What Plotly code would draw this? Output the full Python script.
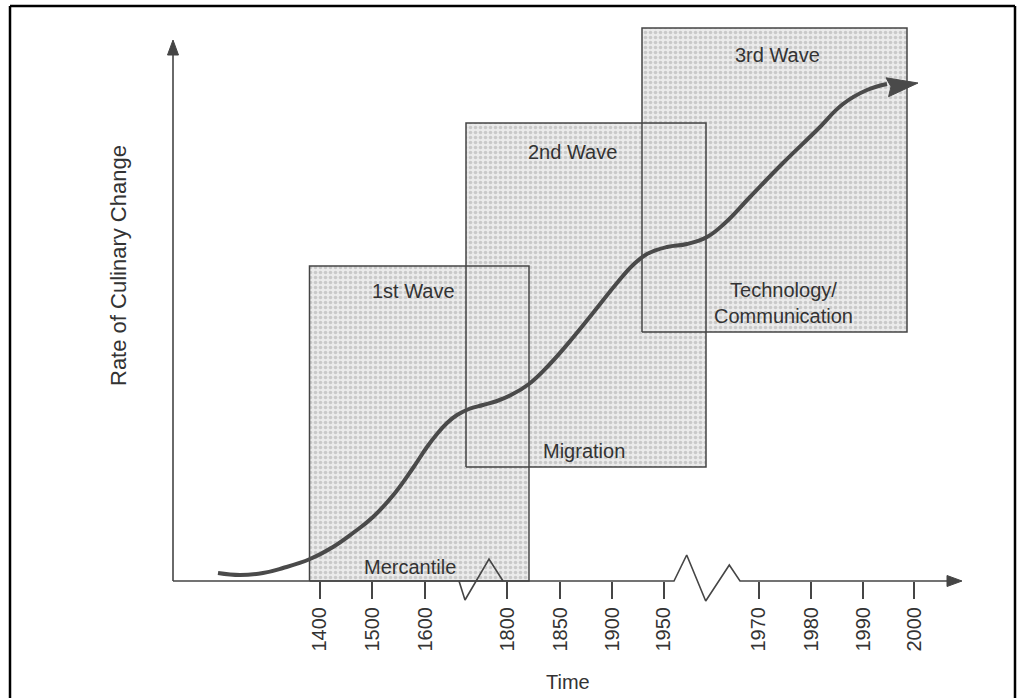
import plotly.graph_objects as go

# ---------------- data ----------------
# x: position along the (broken) time axis, y: rate of culinary change
TICK_POS = [146.5, 199, 252, 334, 387, 439, 490.5, 585.5, 638, 690, 741]
TICK_LABELS = ["1400", "1500", "1600", "1800", "1850", "1900", "1950",
               "1970", "1980", "1990", "2000"]

CURVE_X = [45, 67, 90, 110, 137, 160, 180, 200, 222, 240, 254, 264, 274,
           284, 296, 310, 324, 338, 356, 376, 398, 420, 444, 460, 474, 494,
           514, 534, 552, 577, 610, 644, 670, 694, 714]
CURVE_Y = [8, 6, 8, 13, 22, 34, 48, 64, 88, 113, 134, 147, 158,
           166, 172, 176, 180, 186, 197, 216, 241, 268, 298, 316, 327, 334,
           337, 344, 358, 384, 418, 451, 477, 491, 497]
CURVE_TIP_X = 745
CURVE_TIP_Y = 498

WAVE_NAMES = ["1st Wave", "2nd Wave", "3rd Wave"]
WAVE_DRIVERS = ["Mercantile", "Migration", "Technology/<br>Communication"]
WAVE_X0 = [136.5, 293, 469]
WAVE_X1 = [356, 533, 734]
WAVE_Y0 = [0, 114, 249]
WAVE_Y1 = [315, 458, 553]

# axis geometry (time axis with two breaks)
AXIS_X = [0, 501, 513.7, 532.7, 556.3, 567, 774]
AXIS_Y = [0, 0, 26, -20, 16, 0, 0]
AXIS_TIP_X = 789
BREAK_X = [286, 292, 316, 330]
BREAK_Y = [0, -19, 22, 0]
YAXIS_TOP = 541

# ---------------- layout constants ----------------
W, H = 1019, 698
ML, MR, MT, MB = 163, 49, 20, 87
X_RANGE = [-10, 797]
Y_RANGE = [-30, 561]
FONT = "Liberation Sans, Arial, Helvetica, sans-serif"
INK = "#454545"
TXT = "#333333"


def arrow_poly(tip, back, length, width, notch=0.12):
    dx, dy = tip[0] - back[0], tip[1] - back[1]
    n = (dx * dx + dy * dy) ** 0.5
    dx, dy = dx / n, dy / n
    bx, by = tip[0] - dx * length, tip[1] - dy * length
    px, py = -dy, dx
    xs = [tip[0], bx + px * width / 2, bx + dx * length * notch,
          bx - px * width / 2, tip[0]]
    ys = [tip[1], by + py * width / 2, by + dy * length * notch,
          by - py * width / 2, tip[1]]
    return xs, ys


def px_to_paper(px, py):
    return (px - ML) / (W - ML - MR), (H - MB - py) / (H - MT - MB)


fig = go.Figure()

# wave boxes: fills first, then outlines
for i in range(len(WAVE_NAMES)):
    x0, x1, y0, y1 = WAVE_X0[i], WAVE_X1[i], WAVE_Y0[i], WAVE_Y1[i]
    fig.add_trace(go.Scatter(
        x=[x0, x1, x1, x0, x0], y=[y0, y0, y1, y1, y0],
        mode="lines", fill="toself", line=dict(width=0),
        fillcolor="#e8e8e8",
        fillpattern=dict(shape=".", size=5, solidity=0.42,
                         fgcolor="#a8a8a8", bgcolor="#ebebeb"),
        hoverinfo="skip", showlegend=False))
for i in range(len(WAVE_NAMES)):
    x0, x1, y0, y1 = WAVE_X0[i], WAVE_X1[i], WAVE_Y0[i], WAVE_Y1[i]
    fig.add_trace(go.Scatter(
        x=[x0, x1, x1, x0, x0], y=[y0, y0, y1, y1, y0],
        mode="lines", line=dict(color=INK, width=1.5),
        hoverinfo="skip", showlegend=False))

# axes lines
fig.add_trace(go.Scatter(x=AXIS_X, y=AXIS_Y, mode="lines",
                         line=dict(color=INK, width=1.6),
                         hoverinfo="skip", showlegend=False))
fig.add_trace(go.Scatter(x=BREAK_X, y=BREAK_Y, mode="lines",
                         line=dict(color=INK, width=1.6),
                         hoverinfo="skip", showlegend=False))
fig.add_trace(go.Scatter(x=[0, 0], y=[0, YAXIS_TOP - 14], mode="lines",
                         line=dict(color=INK, width=1.6),
                         hoverinfo="skip", showlegend=False))
for tip, back in [((AXIS_TIP_X, 0), (0, 0)), ((0, YAXIS_TOP), (0, 0))]:
    ax_, ay_ = arrow_poly(tip, back, 15, 11, notch=0.0)
    fig.add_trace(go.Scatter(x=ax_, y=ay_, mode="lines", fill="toself",
                             fillcolor=INK, line=dict(color=INK, width=1),
                             hoverinfo="skip", showlegend=False))

# curve
fig.add_trace(go.Scatter(x=CURVE_X, y=CURVE_Y, mode="lines",
                         line=dict(color="#4a4a4a", width=4, shape="spline",
                                   smoothing=1.2),
                         hoverinfo="skip", showlegend=False))
hx, hy = arrow_poly((CURVE_TIP_X, CURVE_TIP_Y), (CURVE_X[-2], CURVE_Y[-2]), 31, 19)
fig.add_trace(go.Scatter(x=hx, y=hy, mode="lines", fill="toself",
                         fillcolor="#4a4a4a", line=dict(color="#4a4a4a", width=1),
                         hoverinfo="skip", showlegend=False))

# text labels
LABELS = [
    ("1st Wave", 240, 290), ("2nd Wave", 399, 429), ("3rd Wave", 604, 526),
    ("Mercantile", 237, 14), ("Migration", 411, 130),
    ("Technology/<br>Communication", 610, 278),
]
ann = []
for t, x, y in LABELS:
    ann.append(dict(text=t, x=x, y=y, xref="x", yref="y", showarrow=False,
                    font=dict(family=FONT, size=20, color=TXT),
                    xanchor="center", yanchor="middle", align="center"))
tx, ty = px_to_paper(568, 682)
ann.append(dict(text="Time", x=tx, y=ty, xref="paper", yref="paper", showarrow=False,
                font=dict(family=FONT, size=20, color=TXT),
                xanchor="center", yanchor="middle"))
yx, yy = px_to_paper(118, 266)
ann.append(dict(text="Rate of Culinary Change", x=yx, y=yy, xref="paper", yref="paper",
                showarrow=False, textangle=-90,
                font=dict(family=FONT, size=22, color=TXT),
                xanchor="center", yanchor="middle"))

x_l, y_t = px_to_paper(10, 6)
x_r, y_b = px_to_paper(1015, 698)
shapes = [
    dict(type="line", xref="paper", yref="paper", x0=x_l, x1=x_r, y0=y_t, y1=y_t,
         line=dict(color="black", width=2.5)),
    dict(type="line", xref="paper", yref="paper", x0=x_l, x1=x_l, y0=y_t, y1=y_b,
         line=dict(color="black", width=2.5)),
    dict(type="line", xref="paper", yref="paper", x0=x_r, x1=x_r, y0=y_t, y1=y_b,
         line=dict(color="black", width=2.5)),
]

axis_pos = (0 - Y_RANGE[0]) / (Y_RANGE[1] - Y_RANGE[0])

fig.update_layout(
    width=W, height=H, margin=dict(l=ML, r=MR, t=MT, b=MB),
    paper_bgcolor="white", plot_bgcolor="white",
    showlegend=False, annotations=ann, shapes=shapes,
    xaxis=dict(range=X_RANGE, showgrid=False, zeroline=False, showline=False,
               anchor="free", position=axis_pos,
               tickmode="array", tickvals=TICK_POS, ticktext=TICK_LABELS,
               ticks="outside", ticklen=17, tickwidth=1.5, tickcolor=INK,
               tickangle=-90,
               tickfont=dict(family=FONT, size=20, color=TXT)),
    yaxis=dict(range=Y_RANGE, showgrid=False, zeroline=False, showline=False,
               showticklabels=False, ticks=""),
)

fig.write_html("out.html", config={"displayModeBar": False},
               post_script="document.body.style.margin='0';document.body.style.overflow='hidden';")
